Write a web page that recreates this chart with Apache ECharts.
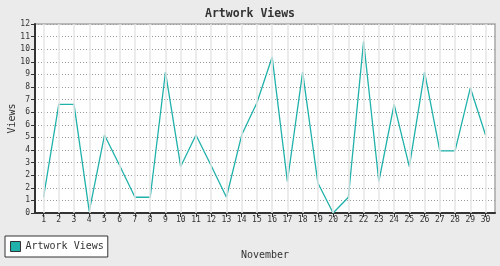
<!DOCTYPE html>
<html>
<head>
<meta charset="utf-8">
<script src="https://cdn.jsdelivr.net/npm/echarts@6/dist/echarts.min.js"></script>
<style>html,body{margin:0;padding:0;background:#ebebeb}#c{width:500px;height:266px}</style>
</head>
<body>
<div id="c"></div>
<script>
const titleText = 'Artwork Views';
const seriesName = 'Artwork Views';
const xName = 'November';
const yName = 'Views';
const categories = [1,2,3,4,5,6,7,8,9,10,11,12,13,14,15,16,17,18,19,20,21,22,23,24,25,26,27,28,29,30];
const views = [1.0,6.9,6.9,0.1,4.95,3.0,1.0,1.0,8.95,2.95,4.95,3.0,1.0,4.95,7.0,9.9,2.0,8.95,1.9,0.0,1.0,10.9,2.0,6.9,2.95,8.95,3.95,3.95,7.95,4.95];
const yMin = 0, yMax = 12, yStep = 0.8;

const FONT = '"DejaVu Sans Mono", "Liberation Mono", monospace';
const chart = echarts.init(document.getElementById('c'), null, {renderer: 'canvas'});
chart.setOption({
  animation: false,
  backgroundColor: '#ebebeb',
  title: {
    text: titleText, left: 'center', top: 3,
    textStyle: {fontFamily: FONT, fontSize: 11.5, fontWeight: 'bold', color: '#333'}
  },
  legend: {
    left: 5, top: 236, orient: 'horizontal',
    padding: [5, 4, 5, 5],
    backgroundColor: '#fff', borderColor: '#333', borderWidth: 1,
    icon: 'rect', itemWidth: 10, itemHeight: 10, itemGap: 5,
    textStyle: {fontFamily: FONT, fontSize: 10, color: '#333', lineHeight: 10},
    data: [{name: seriesName, itemStyle: {color: '#20b2aa', borderColor: '#333', borderWidth: 1}}]
  },
  grid: {
    left: 35, top: 24, width: 460, height: 189,
    containLabel: false, outerBoundsMode: 'none',
    show: true, backgroundColor: '#fff', borderColor: '#a8a8a8', borderWidth: 1.5
  },
  xAxis: {
    type: 'value', min: 0.44, max: 30.62,
    name: xName, nameLocation: 'middle', nameGap: 37, nameMoveOverlap: false,
    nameTextStyle: {fontFamily: FONT, fontSize: 10, color: '#333'},
    axisLine: {show: true, onZero: false, lineStyle: {color: '#333', width: 2}},
    axisTick: {show: true, length: 4, customValues: categories, lineStyle: {color: '#333', width: 1}},
    axisLabel: {customValues: categories, margin: 3, fontFamily: FONT, fontSize: 8, color: '#333'},
    splitLine: {show: false}
  },
  yAxis: {
    type: 'value', min: yMin, max: yMax, interval: yStep,
    name: yName, nameLocation: 'middle', nameGap: 18, nameRotate: 90, nameMoveOverlap: false,
    nameTextStyle: {fontFamily: FONT, fontSize: 10, color: '#333'},
    axisLine: {show: true, onZero: false, lineStyle: {color: '#333', width: 2}},
    axisTick: {show: true, length: 4, lineStyle: {color: '#333', width: 1}},
    axisLabel: {margin: 5, fontFamily: FONT, fontSize: 8, color: '#333',
      formatter: v => String(Math.round(v))},
    splitLine: {show: true, lineStyle: {color: '#999', width: 1, type: [1, 2]}}
  },
  series: [
    {
      name: 'grid', type: 'line', data: categories.map(c => [c, null]), z: 1, silent: true,
      markLine: {
        silent: true, symbol: ['none', 'none'], label: {show: false},
        lineStyle: {color: '#e6e6e6', type: 'solid', width: 1.5},
        emphasis: {disabled: true},
        data: categories.map(c => ({xAxis: c}))
      }
    },
    {
      name: seriesName, type: 'line', z: 3,
      data: categories.map((c, i) => [c, views[i]]),
      showSymbol: false, symbol: 'none',
      lineStyle: {color: '#20b2aa', width: 1.3},
      itemStyle: {color: '#20b2aa'}
    }
  ]
});
</script>
</body>
</html>
